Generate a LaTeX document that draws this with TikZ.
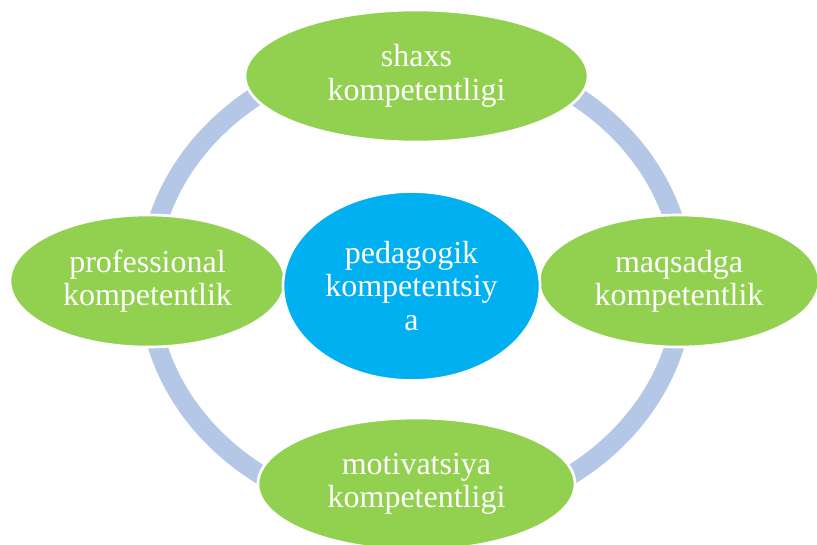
\documentclass[tikz,border=0pt]{standalone}
\usepackage{fontspec}
\setmainfont{Liberation Serif}
\usetikzlibrary{shapes.geometric}
\definecolor{leafgreen}{HTML}{92D050}
\definecolor{corecyan}{HTML}{00B0F0}
\definecolor{ringblue}{HTML}{B4C7E7}
\begin{document}
\begin{tikzpicture}[x=0.75pt, y=-0.75pt,
    every node/.style={font=\fontsize{24}{25}\selectfont, text=white, align=center},
    petal/.style={ellipse, fill=leafgreen, draw=white, line width=2pt, inner sep=0pt, minimum height=99pt},
    core/.style={ellipse, fill=corecyan, draw=white, line width=2pt, inner sep=0pt}]

        \useasboundingbox (0,0) rectangle (817,544);

        % Ring
        \coordinate (mid) at (416,284);
        \draw[ringblue, line width=14.5pt] (mid) ellipse [x radius=201pt, y radius=175.5pt];

        % Petals
        \node[petal, minimum width=257.25pt] (shaxs) at (416.5,76) {shaxs\\kompetentligi};
        \node[petal, minimum width=210pt] (maqsad) at (679,281) {maqsadga\\kompetentlik};
        \node[petal, minimum width=237.75pt] (motiv) at (416.5,484) {motivatsiya\\kompetentligi};
        \node[petal, minimum width=206.25pt] (prof) at (147.5,281) {professional\\kompetentlik};

        % Centre
        \node[core, minimum width=192.75pt, minimum height=141.75pt] (ped) at (411.5,286) {pedagogik\\kompetentsiy\\a};

    \end{tikzpicture}
\end{document}
